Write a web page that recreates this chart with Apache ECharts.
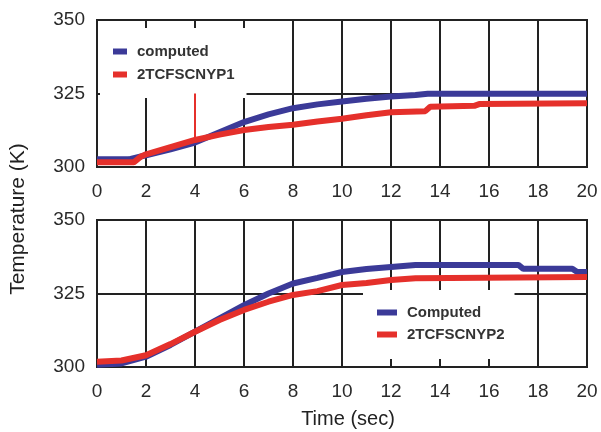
<!DOCTYPE html>
<html><head><meta charset="utf-8">
<script src="https://cdn.jsdelivr.net/npm/echarts@6/dist/echarts.min.js"></script>
<style>html,body{margin:0;padding:0;background:#fff}#c{width:601px;height:432px}</style>
</head><body><div id="c"></div>
<script>
// Top panel
var topComputed = [[0,302.6],[1.3,302.6],[1.5,303],[2,304],[3,306],[4,308.3],[5,311.8],[6,315.3],[7,317.9],[8,320],[9,321.3],[10,322.3],[11,323.2],[12,324],[13,324.5],[13.5,324.9],[20,324.9]];
var topMeasured = [[0,301.6],[1.5,301.6],[1.8,303.6],[2,304.3],[3,306.8],[4,309.2],[5,311],[6,312.6],[7,313.6],[8,314.4],[9,315.5],[10,316.4],[11,317.6],[12,318.6],[13.4,319],[13.6,320.5],[15.4,320.8],[15.6,321.4],[20,321.7]];
// Bottom panel
var botComputed = [[0,300.8],[1,301.2],[2,303.5],[3,307.5],[4,312],[5,316.5],[6,321],[7,325],[8,328.4],[9,330.3],[10,332.3],[11,333.3],[12,334],[13,334.7],[17.2,334.7],[17.4,333.4],[19.4,333.4],[19.6,332.3],[20,332.3]];
var botMeasured = [[0,301.8],[1,302.2],[2,304],[3,307.8],[4,312],[5,316],[6,319.4],[7,322.2],[8,324.5],[9,325.8],[10,327.9],[11,328.6],[12,329.6],[13,330.2],[20,330.6]];
var xTicks = [0,2,4,6,8,10,12,14,16,18,20];
var yTicks = [300,325,350];
var names = ['computed','2TCFSCNYP1','Computed','2TCFSCNYP2'];

var BLUE = '#3b3a98', RED = '#e5302b';
var tickFont = {fontFamily:'"Liberation Sans Narrow","Arial Narrow","Liberation Sans",Arial,sans-serif', fontSize:19, color:'#2a2a2a'};
function xAx(i){return {type:'value', gridIndex:i, min:xTicks[0], max:xTicks[xTicks.length-1], interval:2,
  axisLine:{show:true,lineStyle:{color:'#222',width:2}}, axisTick:{show:false},
  splitLine:{show:true,lineStyle:{color:'#222',width:2}},
  axisLabel:Object.assign({margin:15},tickFont)};}
function yAx(i){return {type:'value', gridIndex:i, min:yTicks[0], max:yTicks[yTicks.length-1], interval:25,
  axisLine:{show:true,lineStyle:{color:'#222',width:2}}, axisTick:{show:false},
  splitLine:{show:true,lineStyle:{color:'#222',width:2}},
  axisLabel:Object.assign({margin:12},tickFont)};}
function ser(name,data,color,i){return {name:name,type:'line',xAxisIndex:i,yAxisIndex:i,data:data,
  showSymbol:false,symbol:'none',lineStyle:{color:color,width:6},itemStyle:{color:color},z:3};}
var legText = {fontFamily:'"Liberation Sans Narrow","Arial Narrow","Liberation Sans",Arial,sans-serif',fontSize:15,fontWeight:'bold',color:'#333',padding:[0,0,0,5]};
var chart = echarts.init(document.getElementById('c'));
var s2 = ser(names[1],topMeasured,RED,0);
s2.markLine = {silent:true,symbol:'none',label:{show:false},lineStyle:{color:RED,width:2,type:'solid'},
  data:[[{coord:[4,325]},{coord:[4,309]}]]};
chart.setOption({
  animation:false,
  grid:[
    {left:97,right:14,top:20,height:147,show:true,borderColor:'#222',borderWidth:2,backgroundColor:'transparent'},
    {left:97,right:14,top:220,height:147,show:true,borderColor:'#222',borderWidth:2,backgroundColor:'transparent'}
  ],
  xAxis:[xAx(0),xAx(1)],
  yAxis:[yAx(0),yAx(1)],
  legend:[
    {data:[names[0],names[1]],orient:'vertical',left:100,top:28,padding:[16,12,16,13],itemGap:8,
     itemWidth:14,itemHeight:6,icon:'rect',backgroundColor:'#fff',textStyle:legText},
    {data:[names[2],names[3]],orient:'vertical',left:363,top:290,padding:[15,10,17,14],itemGap:7,
     itemWidth:20,itemHeight:6,icon:'rect',backgroundColor:'#fff',textStyle:legText}
  ],
  series:[ser(names[0],topComputed,BLUE,0), s2, ser(names[2],botComputed,BLUE,1), ser(names[3],botMeasured,RED,1)],
  graphic:[
    {type:'text',x:18,y:219,rotation:Math.PI/2,style:{text:'Temperature (K)',font:'21px "Liberation Sans",Arial,sans-serif',fill:'#222',align:'center',verticalAlign:'middle'}},
    {type:'text',x:348,y:419,style:{text:'Time (sec)',font:'20px "Liberation Sans",Arial,sans-serif',fill:'#222',align:'center',verticalAlign:'middle'}}
  ]
});
</script></body></html>
